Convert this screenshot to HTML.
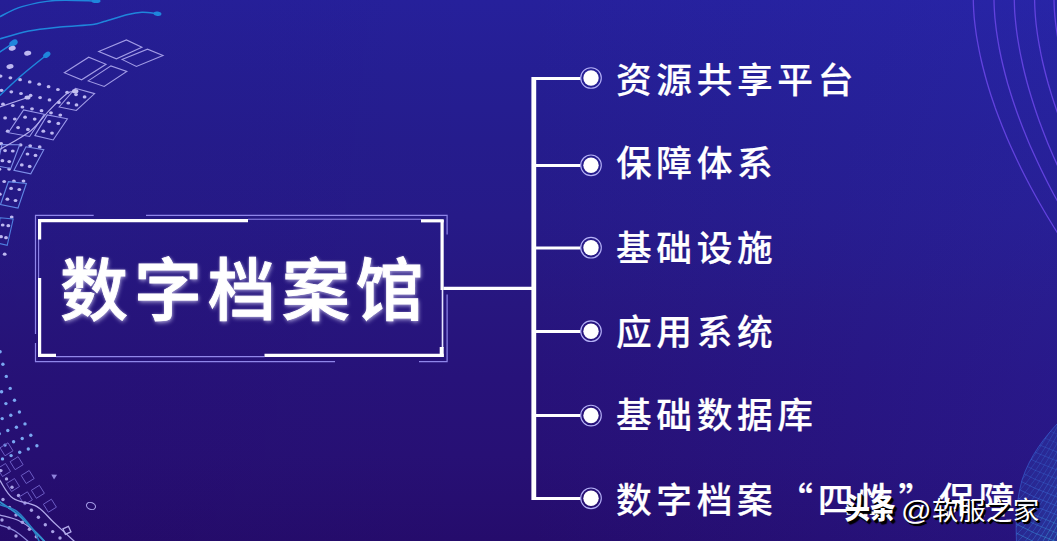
<!DOCTYPE html>
<html lang="zh-CN">
<head>
<meta charset="utf-8">
<title>数字档案馆</title>
<style>
html,body{margin:0;padding:0;}
body{width:1057px;height:541px;overflow:hidden;position:relative;
  background:linear-gradient(90deg,rgba(24,0,70,.07) 0%,rgba(24,0,70,0) 45%,rgba(50,64,235,0) 50%,rgba(50,64,235,.14) 100%),
    linear-gradient(180deg,#26209b 0%,#251e93 14%,#251c8d 26%,#261a88 40%,#27167f 56%,#27127a 70%,#271075 84%,#250c6c 100%);
  font-family:"Liberation Sans","Noto Sans CJK SC",sans-serif;color:#fff;}
#deco{position:absolute;left:0;top:0;width:1057px;height:541px;}
.title{position:absolute;left:60px;top:243px;font-size:68px;font-weight:500;letter-spacing:5.9px;line-height:96px;white-space:nowrap;
  -webkit-text-stroke:0.9px #fff;
  text-shadow:1px 2px 4px rgba(225,220,255,.6),0 0 3px rgba(255,255,255,.45);}
.item{position:absolute;left:616px;font-size:35.7px;font-weight:500;letter-spacing:4.65px;line-height:50px;height:50px;white-space:nowrap;-webkit-text-stroke:0.2px #fff;}
.item span.q{font-family:"Noto Sans CJK SC",sans-serif;}
.wm{position:absolute;font-size:26px;line-height:34px;height:34px;white-space:nowrap;color:#fff;
  text-shadow:1px 1px 0 #000,2px 2px 0 #000,2px 2px 1px #000;}
#wm1{left:844.5px;top:493.5px;font-weight:900;font-size:25.5px;transform:scaleY(1.14);transform-origin:0 100%;text-shadow:1px 1px 0 #000,2px 2px 0 #000,2.5px 2.5px 1px #000;}
#wm2{left:901px;top:492.5px;font-size:28.5px;transform:scaleX(1.06);transform-origin:0 50%;}
#wm3{left:932px;top:494px;font-size:26.5px;letter-spacing:0.4px;}
</style>
</head>
<body>
<svg id="deco" viewBox="0 0 1057 541">
  <!--DECO-START-->
  <g fill="none" stroke="#6242de" stroke-width="1.3">
  <path d="M973.3 -12C973.3 -10 973.2 -4 973.3 0C973.4 4 973.5 8 973.8 12C974 16 974.4 20 974.9 24C975.4 28 975.9 32 976.5 36C977.2 40 977.9 44 978.7 48C979.4 52 980.3 56 981.2 60C982.1 64 983.1 68 984.2 72C985.2 76 986.3 80 987.5 84C988.7 88 989.9 92 991.2 96C992.6 100 993.9 104 995.3 108C996.8 112 998.2 116 999.8 120C1001.3 124 1002.9 128 1004.6 132C1006.2 136 1007.9 140 1009.7 144C1011.5 148 1013.3 152 1015.2 156C1017 160 1019 164 1020.9 168C1022.9 172 1024.9 176 1027 180C1029.1 184 1031.2 188 1033.4 192C1035.6 196 1037.8 200 1040.1 204C1042.4 208 1044.7 212 1047.1 216C1049.5 220 1052 224 1054.4 228C1056.9 232 1060.8 238 1062 240"/>
  <path d="M994 -12C994 -10 993.9 -4 994 0C994.1 4 994.2 8 994.5 12C994.7 16 995.1 20 995.6 24C996 28 996.5 32 997.2 36C997.8 40 998.5 44 999.2 48C1000 52 1000.8 56 1001.7 60C1002.6 64 1003.6 68 1004.6 72C1005.6 76 1006.7 80 1007.8 84C1009 88 1010.2 92 1011.5 96C1012.7 100 1014.1 104 1015.5 108C1016.8 112 1018.3 116 1019.8 120C1021.3 124 1022.8 128 1024.5 132C1026.1 136 1027.7 140 1029.4 144C1031.2 148 1032.9 152 1034.8 156C1036.6 160 1038.5 164 1040.4 168C1042.3 172 1044.3 176 1046.3 180C1048.3 184 1050.4 188 1052.5 192C1054.7 196 1056.8 200 1059.1 204C1061.3 208 1064.8 214 1065.9 216"/>
  <path d="M1014.3 -12C1014.3 -10 1014.2 -4 1014.3 0C1014.4 4 1014.5 8 1014.7 12C1015 16 1015.4 20 1015.8 24C1016.2 28 1016.7 32 1017.3 36C1017.9 40 1018.6 44 1019.3 48C1020 52 1020.8 56 1021.7 60C1022.5 64 1023.4 68 1024.4 72C1025.4 76 1026.4 80 1027.5 84C1028.6 88 1029.8 92 1031 96C1032.2 100 1033.5 104 1034.8 108C1036.1 112 1037.5 116 1038.9 120C1040.4 124 1041.8 128 1043.4 132C1044.9 136 1046.5 140 1048.1 144C1049.8 148 1051.5 152 1053.2 156C1055 160 1056.8 164 1058.6 168C1060.4 172 1063.3 178 1064.3 180"/>
  <path d="M1034.6 -12C1034.6 -10 1034.5 -4 1034.6 0C1034.7 4 1034.8 8 1035.1 12C1035.3 16 1035.7 20 1036.1 24C1036.6 28 1037.1 32 1037.7 36C1038.3 40 1039 44 1039.8 48C1040.5 52 1041.3 56 1042.2 60C1043.1 64 1044.1 68 1045.1 72C1046.1 76 1047.2 80 1048.3 84C1049.5 88 1050.7 92 1051.9 96C1053.2 100 1054.5 104 1055.9 108C1057.2 112 1058.7 116 1060.2 120C1061.6 124 1064 130 1064.8 132"/>
  <path d="M1054 -12C1054 -10 1053.9 -4 1054 0C1054.1 4 1054.2 8 1054.5 12C1054.8 16 1055.2 20 1055.7 24C1056.2 28 1056.8 32 1057.4 36C1058.1 40 1058.8 44 1059.6 48C1060.5 52 1061.9 58 1062.3 60"/>
  </g>
  <g fill="none" stroke="#1f86dc" stroke-width="1.5" stroke-linecap="round">
  <path d="M-4 19C-3.3 18.6 -4.3 18.7 0 16.6C4.3 14.5 12.8 9.3 22 6.6C31.2 3.9 42.7 1.4 55 0.5C67.3 -0.4 89.2 0.9 96 1"/>
  <path d="M-4 40.5C-3.3 40.2 -5.5 40.4 0 38.8C5.5 37.2 18.8 33 28.8 31C38.8 29 49.3 28.1 60 27C70.7 25.9 85.7 25.3 93 24.4C100.3 23.5 98.2 23.1 104 21.5C109.8 19.9 121.7 16.1 128 14.5C134.3 12.9 137.2 12.4 142 12.2C146.8 12 154.5 13.3 157 13.5"/>
  <path d="M-3 54C-2.5 53.7 -2.7 53.8 0 52C2.7 50.2 11.1 44.7 13.3 43.2"/>
  <path d="M-3 99C-2.5 98.4 -4.2 99.3 0 95.3C4.2 91.3 14.2 81.7 22 75C29.8 68.3 42.5 58.3 46.6 55"/>
  </g>
  <g fill="#1f86dc">
  <ellipse cx="96" cy="1" rx="4.5" ry="2" transform="rotate(0 96 1)"/>
  <ellipse cx="157.5" cy="13.7" rx="4" ry="2.2" transform="rotate(8 157.5 13.7)"/>
  <ellipse cx="13.5" cy="43" rx="4.5" ry="3" transform="rotate(-30 13.5 43)"/>
  <ellipse cx="46.8" cy="54.8" rx="4" ry="2.6" transform="rotate(-35 46.8 54.8)"/>
  </g>
  <g fill="#bdb8f0">
  <ellipse cx="4.7" cy="254.2" rx="1.9" ry="1.6"/>
  <ellipse cx="11.7" cy="217" rx="1.9" ry="1.6"/>
  <ellipse cx="23.5" cy="181.1" rx="1.9" ry="1.6"/>
  <ellipse cx="39.7" cy="146.9" rx="1.9" ry="1.6"/>
  <ellipse cx="60.3" cy="115.1" rx="1.9" ry="1.6"/>
  <ellipse cx="13.9" cy="181.2" rx="1.9" ry="1.6"/>
  <ellipse cx="30.2" cy="145.8" rx="1.9" ry="1.6"/>
  <ellipse cx="51" cy="112.8" rx="1.9" ry="1.6"/>
  <ellipse cx="58.8" cy="102.4" rx="1.9" ry="1.6"/>
  <ellipse cx="67.1" cy="92.4" rx="1.9" ry="1.6"/>
  <ellipse cx="-0.2" cy="194.2" rx="1.9" ry="1.6"/>
  <ellipse cx="4.2" cy="181.5" rx="1.9" ry="1.6"/>
  <ellipse cx="9.1" cy="169.1" rx="1.9" ry="1.6"/>
  <ellipse cx="20.6" cy="144.9" rx="1.9" ry="1.6"/>
  <ellipse cx="41.5" cy="110.7" rx="1.9" ry="1.6"/>
  <ellipse cx="49.5" cy="99.9" rx="1.9" ry="1.6"/>
  <ellipse cx="57.9" cy="89.5" rx="1.9" ry="1.6"/>
  <ellipse cx="-0.6" cy="169.2" rx="1.9" ry="1.6"/>
  <ellipse cx="32" cy="108.8" rx="1.9" ry="1.6"/>
  <ellipse cx="40.1" cy="97.6" rx="1.9" ry="1.6"/>
  <ellipse cx="48.6" cy="86.7" rx="1.9" ry="1.6"/>
  <ellipse cx="1.2" cy="143.7" rx="1.9" ry="1.6"/>
  <ellipse cx="7.7" cy="131.2" rx="1.9" ry="1.6"/>
  <ellipse cx="14.8" cy="119" rx="1.9" ry="1.6"/>
  <ellipse cx="22.4" cy="107" rx="1.9" ry="1.6"/>
  <ellipse cx="30.6" cy="95.4" rx="1.9" ry="1.6"/>
  <ellipse cx="39.2" cy="84.2" rx="1.9" ry="1.6"/>
  <ellipse cx="5.1" cy="117.9" rx="1.9" ry="1.6"/>
  <ellipse cx="12.8" cy="105.5" rx="1.9" ry="1.6"/>
  <ellipse cx="21" cy="93.5" rx="1.9" ry="1.6"/>
  <ellipse cx="29.7" cy="81.9" rx="1.9" ry="1.6"/>
  <ellipse cx="3" cy="104.2" rx="1.9" ry="1.6"/>
  <ellipse cx="11.3" cy="91.8" rx="1.9" ry="1.6"/>
  <ellipse cx="20.1" cy="79.7" rx="1.9" ry="1.6"/>
  <ellipse cx="1.5" cy="90.3" rx="1.9" ry="1.6"/>
  <ellipse cx="10.4" cy="77.8" rx="1.9" ry="1.6"/>
  <ellipse cx="0.6" cy="76.1" rx="1.9" ry="1.6"/>
  <ellipse cx="68.3" cy="103" rx="1.9" ry="1.6"/>
  <ellipse cx="76.5" cy="104.9" rx="1.9" ry="1.6"/>
  <ellipse cx="76" cy="94.6" rx="1.9" ry="1.6"/>
  <ellipse cx="84.6" cy="96.9" rx="1.9" ry="1.6"/>
  <ellipse cx="43.3" cy="131.2" rx="1.9" ry="1.6"/>
  <ellipse cx="52" cy="133.1" rx="1.9" ry="1.6"/>
  <ellipse cx="49.2" cy="121.6" rx="1.9" ry="1.6"/>
  <ellipse cx="58.3" cy="123.4" rx="1.9" ry="1.6"/>
  <ellipse cx="18.1" cy="127.6" rx="1.9" ry="1.6"/>
  <ellipse cx="27.9" cy="129.4" rx="1.9" ry="1.6"/>
  <ellipse cx="25.1" cy="117.2" rx="1.9" ry="1.6"/>
  <ellipse cx="34.7" cy="119.1" rx="1.9" ry="1.6"/>
  <ellipse cx="21.8" cy="164.9" rx="1.9" ry="1.6"/>
  <ellipse cx="29.7" cy="166.4" rx="1.9" ry="1.6"/>
  <ellipse cx="27.5" cy="154" rx="1.9" ry="1.6"/>
  <ellipse cx="35.5" cy="155.4" rx="1.9" ry="1.6"/>
  <ellipse cx="2.4" cy="160.7" rx="1.9" ry="1.6"/>
  <ellipse cx="9.2" cy="161.6" rx="1.9" ry="1.6"/>
  <ellipse cx="5.1" cy="150.6" rx="1.9" ry="1.6"/>
  <ellipse cx="12.8" cy="151" rx="1.9" ry="1.6"/>
  <ellipse cx="7.4" cy="199.2" rx="1.9" ry="1.6"/>
  <ellipse cx="15.5" cy="200.5" rx="1.9" ry="1.6"/>
  <ellipse cx="11.1" cy="188.4" rx="1.9" ry="1.6"/>
  <ellipse cx="19.3" cy="189.5" rx="1.9" ry="1.6"/>
  <ellipse cx="1.1" cy="236.7" rx="1.9" ry="1.6"/>
  <ellipse cx="6" cy="237.7" rx="1.9" ry="1.6"/>
  <ellipse cx="2.7" cy="225" rx="1.9" ry="1.6"/>
  <ellipse cx="8.3" cy="225.7" rx="1.9" ry="1.6"/>
  <ellipse cx="12.2" cy="48.3" rx="3.6" ry="2.4" transform="rotate(-12 12.2 48.3)"/>
  <ellipse cx="27.7" cy="53.2" rx="3.6" ry="2.4" transform="rotate(-12 27.7 53.2)"/>
  <ellipse cx="10" cy="66.5" rx="3.6" ry="2.4" transform="rotate(-12 10 66.5)"/>
  </g>
  <g fill="none" stroke-width="1.1">
  <path d="M98.7 51.4L126.4 39.9L141.9 47.2L116.4 58.8Z" stroke="#a29ce6"/>
  <path d="M122 59.4L147.5 49.2L163 55.4L136.4 66.5Z" stroke="#a29ce6"/>
  <path d="M64.3 72.7L88.7 57.2L106 64.3L81.6 79.8Z" stroke="#a29ce6"/>
  <path d="M88.2 80.9L110.9 65.9L126.8 71.4L104.2 86.5Z" stroke="#a29ce6"/>
  <path d="M59.1 107L75.4 88.3L94.6 93.6L76.3 110.5Z" stroke="#a29ce6"/>
  <path d="M34.9 135.6L47.3 114.9L67.4 118.8L53.2 140Z" stroke="#9a98ea"/>
  <path d="M8.3 132.7L23.6 109.9L44.3 114.3L29.6 136.5Z" stroke="#9a98ea"/>
  <path d="M13.9 170.4L26 146.8L43.8 149.7L30.8 173.8Z" stroke="#7d8ee8"/>
  <path d="M-3 166L2 144.6L19.7 144.8L10.8 168.5Z" stroke="#7d8ee8"/>
  <path d="M0.5 204.5L8.4 181.7L26.4 183.4L18 208Z" stroke="#5f86e4"/>
  <path d="M-2.4 243L0 217.7L13.2 219L7.2 245.4Z" stroke="#4f80e0"/>
  </g>
  <g fill="none" stroke="#b4aeee" stroke-width="1.1">
  <path d="M-2 107.5L27 97.8"/>
  <path d="M-3 152C-2.5 151.6 -5.6 153 0 149.5C5.6 146 22.4 137.4 30.5 131C38.6 124.5 42.7 117 48.8 110.8C54.9 104.5 62.6 96.7 67 93.5C71.4 90.3 73.7 91.8 75 91.5"/>
  </g>
  <g fill="#c4c0f0"><ellipse cx="27.5" cy="97.6" rx="3" ry="2"/><ellipse cx="75.2" cy="91.3" rx="3.2" ry="2.2"/></g>
  <g>
  <circle cx="0.1" cy="351.8" r="1.7" fill="#7aa8f2"/>
  <circle cx="2.9" cy="364.2" r="1.7" fill="#7aa8f2"/>
  <circle cx="6.3" cy="376.4" r="1.7" fill="#7aa8f2"/>
  <circle cx="10.2" cy="388.4" r="1.7" fill="#7aa8f2"/>
  <circle cx="1.6" cy="391.7" r="1.7" fill="#7aa8f2"/>
  <circle cx="14.5" cy="400.3" r="1.7" fill="#7aa8f2"/>
  <circle cx="5.9" cy="403.6" r="1.7" fill="#7aa8f2"/>
  <circle cx="19.4" cy="412" r="1.7" fill="#7aa8f2"/>
  <circle cx="10.8" cy="415.3" r="1.7" fill="#7aa8f2"/>
  <circle cx="2.2" cy="418.6" r="1.7" fill="#7aa8f2"/>
  <circle cx="25" cy="423.9" r="1.7" fill="#7aa8f2"/>
  <circle cx="16.4" cy="427.2" r="1.7" fill="#7aa8f2"/>
  <circle cx="7.8" cy="430.5" r="1.7" fill="#7aa8f2"/>
  <circle cx="-0.8" cy="433.8" r="1.7" fill="#7aa8f2"/>
  <circle cx="30.8" cy="435.2" r="1.7" fill="#7aa8f2"/>
  <circle cx="22.2" cy="438.5" r="1.7" fill="#7aa8f2"/>
  <circle cx="13.6" cy="441.8" r="1.7" fill="#7aa8f2"/>
  <circle cx="5" cy="445.1" r="1.7" fill="#7aa8f2"/>
  <circle cx="36.9" cy="445.7" r="1.7" fill="#7aa8f2"/>
  <circle cx="28.3" cy="449" r="1.7" fill="#7aa8f2"/>
  <circle cx="19.7" cy="452.3" r="1.7" fill="#7aa8f2"/>
  <circle cx="11.1" cy="455.6" r="1.7" fill="#7aa8f2"/>
  <circle cx="2.5" cy="458.9" r="1.7" fill="#7aa8f2"/>
  <circle cx="0.9" cy="470.6" r="1.7" fill="#a9a2e6"/>
  <circle cx="6.5" cy="478.9" r="1.7" fill="#a9a2e6"/>
  <circle cx="12" cy="487.2" r="1.7" fill="#a9a2e6"/>
  <circle cx="18.5" cy="495.5" r="1.7" fill="#a9a2e6"/>
  <circle cx="25" cy="503" r="1.7" fill="#a9a2e6"/>
  <circle cx="31.4" cy="510.3" r="1.7" fill="#a9a2e6"/>
  <circle cx="38.4" cy="517.3" r="1.7" fill="#a9a2e6"/>
  <circle cx="45.3" cy="524.7" r="1.7" fill="#a9a2e6"/>
  <circle cx="52.7" cy="531.6" r="1.7" fill="#a9a2e6"/>
  <circle cx="60" cy="538" r="1.7" fill="#a9a2e6"/>
  <circle cx="3" cy="499.5" r="1.7" fill="#a9a2e6"/>
  <circle cx="9.5" cy="507.5" r="1.7" fill="#a9a2e6"/>
  <circle cx="16" cy="515" r="1.7" fill="#a9a2e6"/>
  <circle cx="22.4" cy="522.3" r="1.7" fill="#a9a2e6"/>
  <circle cx="29.4" cy="529.3" r="1.7" fill="#a9a2e6"/>
  <circle cx="36.3" cy="536.7" r="1.7" fill="#a9a2e6"/>
  <circle cx="2" cy="520" r="1.7" fill="#a9a2e6"/>
  <circle cx="9" cy="528" r="1.7" fill="#a9a2e6"/>
  <circle cx="16" cy="536" r="1.7" fill="#a9a2e6"/>
  </g>
  <g fill="none" stroke="#6c5cc4" stroke-width="1">
  <path d="M13 450.8L5 455.8L-0 447.8L8 442.8Z"/>
  <path d="M23.1 464.7L15.1 469.7L10.1 461.7L18.1 456.7Z"/>
  <path d="M34.2 478.5L26.2 483.5L21.2 475.5L29.2 470.5Z"/>
  <path d="M44.4 493.3L36.4 498.3L31.4 490.3L39.4 485.3Z"/>
  <path d="M56.4 507.2L48.4 512.2L43.4 504.2L51.4 499.2Z"/>
  <path d="M32.4 499.8L24.4 504.8L19.4 496.8L27.4 491.8Z"/>
  <path d="M10.5 471.5L2.5 476.5L-2.5 468.5L5.5 463.5Z"/>
  <path d="M19.5 486.5L11.5 491.5L6.5 483.5L14.5 478.5Z"/>
  </g>
  <path d="M70.9 531.8L65.4 534.3L62.9 528.8L68.4 526.3Z" fill="none" stroke="#b4aceb" stroke-width="1.3"/>
  <ellipse cx="91" cy="506" rx="4.6" ry="3.4" fill="none" stroke="#a49ce6" stroke-width="1.1" transform="rotate(20 91 506)"/>
  <path d="M51.3 474.4L57.1 474.8L54 479.4Z" fill="#8f84dc"/>
  <g fill="none" stroke-width="1.3">
  <path d="M-3 476C-2.5 476.8 -2.7 477 0 480.7C2.7 484.4 6.8 494 13 498.3C19.2 502.6 30.2 502.6 37 506.6C43.8 510.6 47.4 516.6 53.6 522.3C59.8 528 69.9 537.2 74 541C78.1 544.8 77.3 544.3 78 545" stroke="#b0a8ea"/>
  <path d="M-3 514C-2.5 514.2 -3.6 513.9 0 515C3.6 516.1 13 518 18.5 520.5C24 523 28.1 525.9 33 530C37.9 534.1 45.5 542.5 48 545" stroke="#a8a0e6"/>
  <path d="M-3 500C-2.5 500.3 -3.6 499.5 0 502C3.6 504.5 12.3 509.8 18.5 515C24.7 520.2 32.4 528.8 37 533.5C41.6 538.2 44.5 541.4 46 543" stroke="#2f90cc" stroke-width="1.8"/>
  <path d="M-3 503.5C-2.5 503.7 -3.3 503.5 0 504.8C3.3 506.1 11.1 507 16.6 511.2C22.1 515.4 29.1 524.4 33 529.7C36.9 535 38.8 540.8 40 543" stroke="#2a7fc4" stroke-width="1.5"/>
  <path d="M-3 524C-2.5 524.2 -3 523.8 0 525C3 526.2 10 528 15 531C20 534 27.5 541 30 543" stroke="#8f8adc"/>
  </g>
  <defs><clipPath id="mclip"><path d="M1060 421L1057 424C1046 436 1030 455 1022 480C1016 502 1015.5 522 1016.6 545L1060 545Z"/></clipPath><linearGradient id="mg" x1="0" y1="0" x2="1" y2="1"><stop offset="0" stop-color="#2a3cb0" stop-opacity=".12"/><stop offset="1" stop-color="#2a6cc8" stop-opacity=".4"/></linearGradient></defs>
  <g clip-path="url(#mclip)" fill="none">
  <rect x="1000" y="400" width="60" height="145" fill="url(#mg)"/>
  <path d="M1008 469 Q1034 447 1062 393" stroke="#3c70dc" stroke-width="1" opacity="0.2"/>
  <path d="M1008 477.2 Q1034 455.2 1062 401.2" stroke="#3c70dc" stroke-width="1" opacity="0.2"/>
  <path d="M1008 485.4 Q1034 463.4 1062 409.4" stroke="#3c70dc" stroke-width="1" opacity="0.3"/>
  <path d="M1008 493.6 Q1034 471.6 1062 417.6" stroke="#3c70dc" stroke-width="1" opacity="0.3"/>
  <path d="M1008 501.8 Q1034 479.8 1062 425.8" stroke="#3c70dc" stroke-width="1" opacity="0.3"/>
  <path d="M1008 510 Q1034 488 1062 434" stroke="#3c70dc" stroke-width="1" opacity="0.3"/>
  <path d="M1008 518.2 Q1034 496.2 1062 442.2" stroke="#3c70dc" stroke-width="1" opacity="0.3"/>
  <path d="M1008 526.4 Q1034 504.4 1062 450.4" stroke="#3c70dc" stroke-width="1" opacity="0.4"/>
  <path d="M1008 534.6 Q1034 512.6 1062 458.6" stroke="#3c70dc" stroke-width="1" opacity="0.4"/>
  <path d="M1008 542.8 Q1034 520.8 1062 466.8" stroke="#3c70dc" stroke-width="1" opacity="0.4"/>
  <path d="M1008 551 Q1034 529 1062 475" stroke="#3c70dc" stroke-width="1" opacity="0.4"/>
  <path d="M1008 559.2 Q1034 537.2 1062 483.2" stroke="#3c70dc" stroke-width="1" opacity="0.4"/>
  <path d="M1008 567.4 Q1034 545.4 1062 491.4" stroke="#3c70dc" stroke-width="1" opacity="0.5"/>
  <path d="M1008 575.6 Q1034 553.6 1062 499.6" stroke="#3c70dc" stroke-width="1" opacity="0.5"/>
  <path d="M1008 583.8 Q1034 561.8 1062 507.8" stroke="#3a94d8" stroke-width="1" opacity="0.5"/>
  <path d="M1008 592 Q1034 570 1062 516" stroke="#3a94d8" stroke-width="1" opacity="0.5"/>
  <path d="M1008 600.2 Q1034 578.2 1062 524.2" stroke="#3a94d8" stroke-width="1" opacity="0.5"/>
  <path d="M1008 608.4 Q1034 586.4 1062 532.4" stroke="#3a94d8" stroke-width="1" opacity="0.6"/>
  <path d="M1008 616.6 Q1034 594.6 1062 540.6" stroke="#3a94d8" stroke-width="1" opacity="0.6"/>
  <path d="M1008 624.8 Q1034 602.8 1062 548.8" stroke="#3a94d8" stroke-width="1" opacity="0.6"/>
  <path d="M1008 633 Q1034 611 1062 557" stroke="#3a94d8" stroke-width="1" opacity="0.6"/>
  <path d="M1008 641.2 Q1034 619.2 1062 565.2" stroke="#3a94d8" stroke-width="1" opacity="0.6"/>
  <path d="M1008 649.4 Q1034 627.4 1062 573.4" stroke="#3a94d8" stroke-width="1" opacity="0.7"/>
  <path d="M1008 657.6 Q1034 635.6 1062 581.6" stroke="#3a94d8" stroke-width="1" opacity="0.7"/>
  <path d="M1008 394 Q1034 408 1062 418" stroke="#3f78e0" stroke-width="1" opacity="0.2"/>
  <path d="M1008 403 Q1034 417 1062 427" stroke="#3f78e0" stroke-width="1" opacity="0.2"/>
  <path d="M1008 412 Q1034 426 1062 436" stroke="#3f78e0" stroke-width="1" opacity="0.2"/>
  <path d="M1008 421 Q1034 435 1062 445" stroke="#3f78e0" stroke-width="1" opacity="0.2"/>
  <path d="M1008 430 Q1034 444 1062 454" stroke="#3f78e0" stroke-width="1" opacity="0.3"/>
  <path d="M1008 439 Q1034 453 1062 463" stroke="#3f78e0" stroke-width="1" opacity="0.3"/>
  <path d="M1008 448 Q1034 462 1062 472" stroke="#3f78e0" stroke-width="1" opacity="0.3"/>
  <path d="M1008 457 Q1034 471 1062 481" stroke="#3f78e0" stroke-width="1" opacity="0.3"/>
  <path d="M1008 466 Q1034 480 1062 490" stroke="#3f78e0" stroke-width="1" opacity="0.3"/>
  <path d="M1008 475 Q1034 489 1062 499" stroke="#3f78e0" stroke-width="1" opacity="0.4"/>
  <path d="M1008 484 Q1034 498 1062 508" stroke="#3f78e0" stroke-width="1" opacity="0.4"/>
  <path d="M1008 493 Q1034 507 1062 517" stroke="#3f78e0" stroke-width="1" opacity="0.4"/>
  <path d="M1008 502 Q1034 516 1062 526" stroke="#3a94d8" stroke-width="1" opacity="0.4"/>
  <path d="M1008 511 Q1034 525 1062 535" stroke="#3a94d8" stroke-width="1" opacity="0.4"/>
  <path d="M1008 520 Q1034 534 1062 544" stroke="#3a94d8" stroke-width="1" opacity="0.5"/>
  <path d="M1008 529 Q1034 543 1062 553" stroke="#3a94d8" stroke-width="1" opacity="0.5"/>
  <path d="M1008 538 Q1034 552 1062 562" stroke="#3a94d8" stroke-width="1" opacity="0.5"/>
  <path d="M1008 547 Q1034 561 1062 571" stroke="#3a94d8" stroke-width="1" opacity="0.5"/>
  <path d="M1008 556 Q1034 570 1062 580" stroke="#3a94d8" stroke-width="1" opacity="0.5"/>
  <path d="M1008 565 Q1034 579 1062 589" stroke="#3a94d8" stroke-width="1" opacity="0.6"/>
  </g>
  <path d="M1057 424C1046 436 1030 455 1022 480C1016 502 1015.5 522 1016.6 545" fill="none" stroke="#3d6fe0" stroke-width="1" opacity=".55"/>
  <!--DECO-END-->
  <!-- tree connector -->
  <g stroke="#fff" fill="none">
    <path d="M443.5 288.3H534" stroke-width="3.3"/>
    <path d="M533.8 77V500" stroke-width="4.8"/>
    <path d="M534 78.5H580.6" stroke-width="3"/>
    <path d="M534 165.5H580.6" stroke-width="3"/>
    <path d="M534 248H580.6" stroke-width="3"/>
    <path d="M534 331.5H580.6" stroke-width="3"/>
    <path d="M534 415.5H580.6" stroke-width="3"/>
    <path d="M534 498.5H580.6" stroke-width="3"/>
  </g>
  <g>
    <g id="dot1"><circle cx="591" cy="78" r="10.3" fill="none" stroke="#b4b0f6" stroke-width="1.15"/><circle cx="591" cy="78" r="7.7" fill="#fff"/></g>
    <g><circle cx="591" cy="165.3" r="10.3" fill="none" stroke="#b4b0f6" stroke-width="1.15"/><circle cx="591" cy="165.3" r="7.7" fill="#fff"/></g>
    <g><circle cx="591" cy="247.7" r="10.3" fill="none" stroke="#b4b0f6" stroke-width="1.15"/><circle cx="591" cy="247.7" r="7.7" fill="#fff"/></g>
    <g><circle cx="591" cy="331.2" r="10.3" fill="none" stroke="#b4b0f6" stroke-width="1.15"/><circle cx="591" cy="331.2" r="7.7" fill="#fff"/></g>
    <g><circle cx="591" cy="415.5" r="10.3" fill="none" stroke="#b4b0f6" stroke-width="1.15"/><circle cx="591" cy="415.5" r="7.7" fill="#fff"/></g>
    <g><circle cx="591" cy="498.3" r="10.3" fill="none" stroke="#b4b0f6" stroke-width="1.15"/><circle cx="591" cy="498.3" r="7.7" fill="#fff"/></g>
  </g>
  <!-- title frame -->
  <g fill="none">
    <g stroke="#9186ea" stroke-width="1.1">
      <path d="M248 219.3H421"/>
      <path d="M38.6 239V278"/>
      <path d="M56 356.6H264.5"/>
    </g>
    <path d="M442.1 220V290" stroke="#fff" stroke-width="3.2"/><path d="M442.5 290V348" stroke="#e8e6ff" stroke-width="1.6"/>
    <g stroke="#fff" stroke-width="3.2">
      <path d="M39.6 239.5V220.7H248"/>
      <path d="M421 220.8H443.7"/>
      <path d="M39.6 278V355.4H56"/>
      <path d="M264.5 355.4H443.7"/>
    </g>
    <path d="M441.7 347V357" stroke="#fff" stroke-width="4"/>
    <g stroke="#8f86ea" stroke-width="1.2">
      <path d="M93.7 215.3H35.5V334"/>
      <path d="M146 215.3H447.1V234.5"/>
      <path d="M447.1 294.6V361.6H419"/>
      <path d="M35.5 343V361.6H335"/>
    </g>
  </g>
</svg>
<div class="title">数字档案馆</div>
<div class="item" style="top:56px">资源共享平台</div>
<div class="item" style="top:139px">保障体系</div>
<div class="item" style="top:223.5px">基础设施</div>
<div class="item" style="top:308px">应用系统</div>
<div class="item" style="top:391px">基础数据库</div>
<div class="item" style="top:473px">数字档案<span class="q">“</span>四性<span class="q">”</span>保障</div>
<div class="wm" id="wm1">头条</div>
<div class="wm" id="wm2">@</div>
<div class="wm" id="wm3">软服之家</div>
</body>
</html>
